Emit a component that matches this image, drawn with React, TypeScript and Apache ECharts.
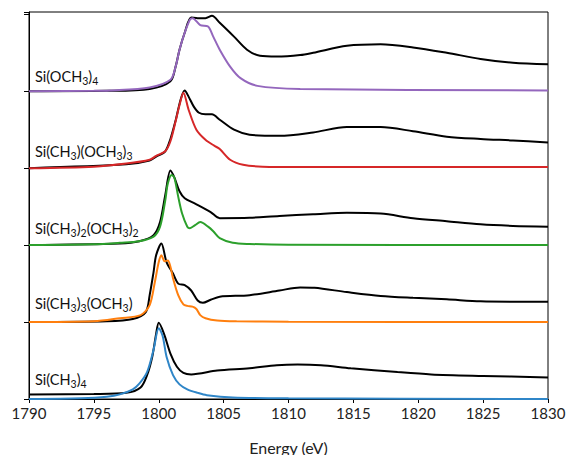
import React, { useEffect, useRef } from "react";
import * as echarts from "echarts";

// Energy axis
const xTicks = [1790, 1795, 1800, 1805, 1810, 1815, 1820, 1825, 1830];
// Vertical offsets of the stacked spectra
const offsets = [0, 1, 2, 3, 4];
const names = ["Si(CH3)4", "Si(CH3)3(OCH3)", "Si(CH3)2(OCH3)2", "Si(CH3)(OCH3)3", "Si(OCH3)4"];
const colors = ["#2f86c8", "#ff7f0e", "#2ca02c", "#d62728", "#9467bd"];

// Si(CH3)4
const calc0X = [1790, 1794, 1796, 1797, 1798, 1798.5, 1799.1, 1799.6, 1800, 1800.3, 1800.6, 1801.1, 1801.6, 1802.2, 1803, 1803.7, 1805.7, 1810, 1830];
const calc0Y = [0, 0.01, 0.03, 0.06, 0.126, 0.2, 0.35, 0.64, 0.92, 0.82, 0.55, 0.31, 0.19, 0.126, 0.08, 0.05, 0.02, 0.01, 0];
const exp0X = [1790, 1795, 1797.5, 1798.6, 1799.1, 1799.5, 1799.8, 1800, 1800.4, 1800.9, 1801.4, 1801.9, 1802.5, 1804.5, 1807, 1809.1, 1810.7, 1812.5, 1814.8, 1818.4, 1821, 1825, 1830];
const exp0Y = [0.06, 0.065, 0.08, 0.15, 0.31, 0.55, 0.85, 0.99, 0.85, 0.59, 0.42, 0.34, 0.32, 0.37, 0.4, 0.44, 0.45, 0.44, 0.4, 0.35, 0.32, 0.3, 0.28];

// Si(CH3)3(OCH3)
const calc1X = [1790, 1795, 1797, 1798.6, 1799.3, 1799.7, 1800, 1800.2, 1800.45, 1800.7, 1800.9, 1801.1, 1801.5, 1801.9, 1802.2, 1802.6, 1802.9, 1803.2, 1803.6, 1804.5, 1806, 1810, 1830];
const calc1Y = [0, 0.01, 0.05, 0.09, 0.22, 0.52, 0.78, 0.87, 0.79, 0.8, 0.72, 0.57, 0.35, 0.23, 0.21, 0.2, 0.17, 0.09, 0.05, 0.02, 0.01, 0.005, 0];
const exp1X = [1790, 1796, 1798, 1799, 1799.3, 1799.6, 1799.8, 1800.2, 1800.6, 1801.1, 1801.5, 1802, 1802.5, 1803, 1803.4, 1804, 1804.7, 1807, 1809.3, 1810.9, 1812, 1814.5, 1817.1, 1819.6, 1822.2, 1824.8, 1827.3, 1830];
const exp1Y = [0, 0.01, 0.04, 0.13, 0.35, 0.65, 0.87, 1.02, 0.78, 0.63, 0.5, 0.48, 0.41, 0.28, 0.25, 0.29, 0.33, 0.35, 0.41, 0.45, 0.445, 0.39, 0.34, 0.315, 0.295, 0.27, 0.265, 0.265];

// Si(CH3)2(OCH3)2
const calc2X = [1790, 1795, 1797, 1798.5, 1799.6, 1800.1, 1800.5, 1800.7, 1801.0, 1801.2, 1801.5, 1801.8, 1802.2, 1802.4, 1802.8, 1803.2, 1803.8, 1804.2, 1804.7, 1805.7, 1807, 1810, 1830];
const calc2Y = [0, 0.01, 0.03, 0.05, 0.11, 0.24, 0.58, 0.8, 0.91, 0.88, 0.63, 0.41, 0.24, 0.22, 0.26, 0.3, 0.24, 0.18, 0.09, 0.03, 0.015, 0.005, 0];
const exp2X = [1790, 1797, 1798.5, 1799.6, 1800.1, 1800.5, 1800.9, 1801.2, 1801.6, 1802, 1802.8, 1804, 1804.7, 1807, 1809.3, 1811.9, 1814.5, 1817.1, 1819.6, 1822.2, 1824.8, 1827.3, 1830];
const exp2Y = [0, 0.02, 0.05, 0.13, 0.3, 0.65, 0.97, 0.88, 0.7, 0.61, 0.54, 0.43, 0.35, 0.355, 0.38, 0.4, 0.42, 0.41, 0.35, 0.31, 0.27, 0.25, 0.24];

// Si(CH3)(OCH3)3
const calc3X = [1790, 1795, 1797.5, 1799.3, 1799.8, 1800.5, 1800.9, 1801.3, 1801.6, 1801.9, 1802.3, 1802.9, 1803.6, 1804.3, 1804.7, 1805.5, 1806.5, 1808, 1811, 1830];
const calc3Y = [0, 0.02, 0.06, 0.11, 0.16, 0.22, 0.35, 0.61, 0.82, 0.98, 0.76, 0.5, 0.37, 0.29, 0.25, 0.11, 0.045, 0.02, 0.015, 0.015];
const exp3X = [1790, 1797.5, 1799.3, 1799.8, 1800.5, 1800.9, 1801.3, 1801.7, 1802.0, 1802.3, 1802.7, 1803.1, 1803.6, 1804.1, 1804.7, 1805.8, 1807, 1809.3, 1811.9, 1814.5, 1817.1, 1819.6, 1822.2, 1824.8, 1827.3, 1830];
const exp3Y = [0, 0.05, 0.1, 0.15, 0.22, 0.38, 0.62, 0.9, 1.01, 0.93, 0.8, 0.72, 0.7, 0.7, 0.63, 0.5, 0.435, 0.42, 0.465, 0.535, 0.535, 0.48, 0.41, 0.38, 0.36, 0.335];

// Si(OCH3)4
const calc4X = [1790, 1795, 1796.2, 1799.3, 1800.9, 1801.3, 1801.6, 1802.0, 1802.4, 1802.6, 1803.2, 1803.8, 1804.2, 1804.7, 1805.5, 1806.3, 1807.6, 1810.9, 1830];
const calc4Y = [0, 0.005, 0.01, 0.05, 0.15, 0.32, 0.54, 0.76, 0.93, 0.95, 0.86, 0.84, 0.71, 0.54, 0.32, 0.17, 0.07, 0.03, 0.01];
const exp4X = [1790, 1796, 1799.3, 1800.9, 1801.3, 1801.6, 1802.0, 1802.5, 1803.0, 1803.6, 1804.1, 1804.7, 1805.8, 1806.8, 1807.8, 1809.1, 1810.9, 1811.9, 1814.5, 1817.1, 1819.6, 1822.2, 1824.8, 1827.3, 1830];
const exp4Y = [0, 0.005, 0.03, 0.13, 0.32, 0.54, 0.76, 0.96, 0.95, 0.95, 0.98, 0.89, 0.71, 0.54, 0.46, 0.45, 0.47, 0.5, 0.59, 0.61, 0.57, 0.5, 0.42, 0.37, 0.35];

const calcX = [calc0X, calc1X, calc2X, calc3X, calc4X];
const calcY = [calc0Y, calc1Y, calc2Y, calc3Y, calc4Y];
const expX = [exp0X, exp1X, exp2X, exp3X, exp4X];
const expY = [exp0Y, exp1Y, exp2Y, exp3Y, exp4Y];

// Label text (rich-text markup for subscripts)
const labelRich = [
  "{a|Si(CH}{s|3}{a|)}{s|4}",
  "{a|Si(CH}{s|3}{a|)}{s|3}{a|(OCH}{s|3}{a|)}",
  "{a|Si(CH}{s|3}{a|)}{s|2}{a|(OCH}{s|3}{a|)}{s|2}",
  "{a|Si(CH}{s|3}{a|)(OCH}{s|3}{a|)}{s|3}",
  "{a|Si(OCH}{s|3}{a|)}{s|4}",
];
const labelY = [379, 303, 228, 151, 76];

const FONT = "Lato, 'Open Sans', sans-serif";

export default function App() {
  const ref = useRef<HTMLDivElement>(null);
  useEffect(() => {
    if (!ref.current) return;
    const chart = echarts.init(ref.current, undefined, { renderer: "svg" });
    const series: any[] = [];
    for (let i = 0; i < offsets.length; i++) {
      series.push({
        name: names[i] + " exp",
        type: "line",
        data: expX[i].map((x, k) => [x, expY[i][k] + offsets[i]]),
        showSymbol: false,
        smooth: 0.3,
        lineStyle: { color: "#000", width: 2 },
        z: 2,
      });
    }
    for (let i = 0; i < offsets.length; i++) {
      series.push({
        name: names[i],
        type: "line",
        data: calcX[i].map((x, k) => [x, calcY[i][k] + offsets[i]]),
        showSymbol: false,
        smooth: 0.3,
        lineStyle: { color: colors[i], width: 2 },
        z: 3,
      });
    }
    chart.setOption({
      animation: false,
      grid: {
        left: 29,
        right: 19,
        top: 12,
        bottom: 56,
        show: true,
        borderColor: "#000",
        borderWidth: 1,
        outerBoundsMode: "none",
        containLabel: false,
      },
      xAxis: {
        type: "value",
        min: 1790,
        max: 1830,
        interval: 5,
        name: "Energy (eV)",
        nameLocation: "middle",
        nameGap: 40,
        nameTextStyle: { fontFamily: FONT, fontSize: 16, color: "#222" },
        axisLine: { show: true, lineStyle: { color: "#000", width: 1 } },
        axisTick: { show: true, length: 4, lineStyle: { color: "#000" } },
        axisLabel: {
          fontFamily: FONT,
          fontSize: 15,
          color: "#222",
          margin: 6,
          formatter: (v: number) => String(v),
        },
        splitLine: { show: false },
      },
      yAxis: {
        type: "value",
        min: 0,
        max: 5.03,
        interval: 1,
        axisLine: { show: true, lineStyle: { color: "#000", width: 1 } },
        axisTick: { show: true, length: 5, lineStyle: { color: "#000" } },
        axisLabel: { show: false },
        splitLine: { show: false },
      },
      graphic: labelRich.map((t, i) => ({
        type: "text",
        x: 35,
        y: labelY[i],
        z: 10,
        style: {
          text: t,
          verticalAlign: "middle",
          align: "left",
          rich: {
            a: { fontFamily: FONT, fontSize: 14.5, lineHeight: 21, fill: "#111" },
            s: { fontFamily: FONT, fontSize: 10.5, lineHeight: 10, verticalAlign: "bottom", fill: "#111" },
          },
        },
      })),
      series,
    });
    return () => chart.dispose();
  }, []);
  return (
    <div
      ref={ref}
      style={{ position: "absolute", left: 0, top: 0, width: 567, height: 455 }}
    />
  );
}
